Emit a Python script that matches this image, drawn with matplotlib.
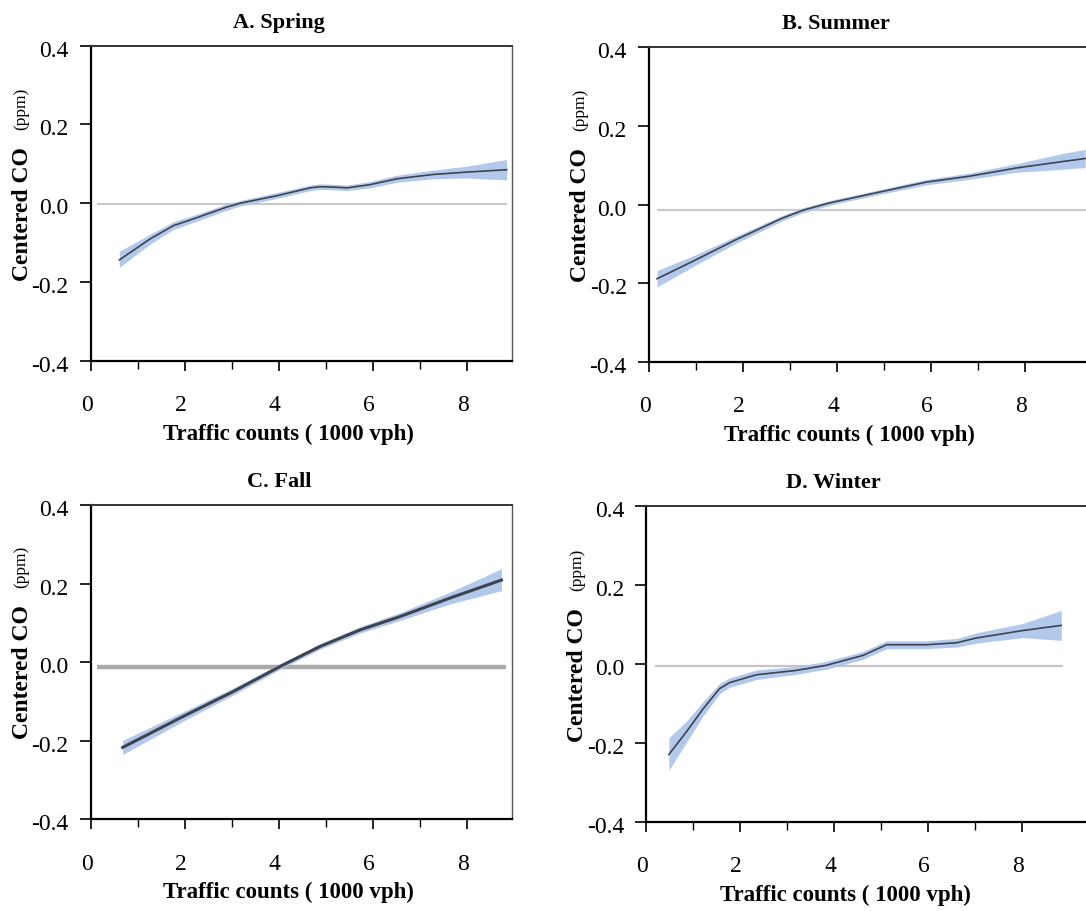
import matplotlib
matplotlib.use("Agg")
import matplotlib.pyplot as plt
from matplotlib.transforms import ScaledTranslation

plt.rcParams['font.family'] = ['Liberation Serif', 'DejaVu Serif']

titles = ["A. Spring", "B. Summer", "C. Fall", "D. Winter"]
xlabel = "Traffic counts ( 1000 vph)"
ylabel_main = "Centered CO"
ylabel_unit = "(ppm)"
yticks = [-0.4, -0.2, 0.0, 0.2, 0.4]
ytick_labels = ["-0.4", "-0.2", "0.0", "0.2", "0.4"]
xticks_major = [0, 2, 4, 6, 8]
xticks_minor = [1, 3, 5, 7]

# A. Spring
spring_x = [0.61, 1.26, 1.76, 2.18, 2.89, 3.18, 3.96, 4.67, 4.88, 5.15, 5.45, 5.94, 6.51, 7.29, 8.00, 8.85]
spring_y = [-0.144, -0.091, -0.057, -0.040, -0.010, 0.000, 0.019, 0.039, 0.042, 0.041, 0.039, 0.047, 0.062, 0.073, 0.079, 0.085]
spring_lo = [-0.163, -0.104, -0.067, -0.049, -0.018, -0.007, 0.012, 0.032, 0.035, 0.034, 0.032, 0.039, 0.053, 0.062, 0.064, 0.059]
spring_hi = [-0.122, -0.079, -0.047, -0.031, -0.002, 0.007, 0.027, 0.046, 0.049, 0.048, 0.046, 0.055, 0.071, 0.084, 0.094, 0.111]
spring_ref = -0.001

# B. Summer
summer_x = [0.17, 1.01, 1.86, 2.85, 3.28, 3.84, 4.84, 5.90, 6.82, 7.82, 8.84, 9.28]
summer_y = [-0.189, -0.140, -0.089, -0.034, -0.0145, 0.004, 0.030, 0.057, 0.072, 0.093, 0.110, 0.117]
summer_lo = [-0.210, -0.153, -0.098, -0.041, -0.021, -0.002, 0.024, 0.050, 0.064, 0.082, 0.090, 0.094]
summer_hi = [-0.168, -0.127, -0.080, -0.027, -0.008, 0.010, 0.036, 0.064, 0.080, 0.104, 0.131, 0.140]
summer_ref = -0.0145

# C. Fall
fall_x = [0.68, 1.97, 3.03, 4.03, 4.88, 5.73, 6.58, 7.64, 8.74]
fall_y = [-0.217, -0.138, -0.075, -0.011, 0.040, 0.082, 0.116, 0.163, 0.209]
fall_lo = [-0.235, -0.150, -0.084, -0.018, 0.033, 0.074, 0.106, 0.148, 0.182]
fall_hi = [-0.199, -0.126, -0.066, -0.004, 0.047, 0.090, 0.126, 0.178, 0.238]
fall_ref = -0.013

# D. Winter
winter_x = [0.48, 0.85, 1.21, 1.56, 1.77, 2.34, 3.19, 3.83, 4.61, 5.11, 5.46, 5.96, 6.60, 7.02, 8.01, 8.83]
winter_y = [-0.230, -0.173, -0.114, -0.063, -0.048, -0.028, -0.017, -0.004, 0.021, 0.048, 0.048, 0.048, 0.053, 0.065, 0.084, 0.097]
winter_lo = [-0.270, -0.200, -0.132, -0.076, -0.060, -0.040, -0.027, -0.014, 0.011, 0.038, 0.038, 0.038, 0.042, 0.052, 0.066, 0.059]
winter_hi = [-0.188, -0.146, -0.096, -0.050, -0.036, -0.016, -0.007, 0.006, 0.031, 0.058, 0.058, 0.058, 0.064, 0.078, 0.102, 0.135]
winter_ref = -0.006

# extent of the horizontal reference line in each panel (x units)
ref_start = [0.13, 0.17, 0.13, 0.18]
ref_end = [8.85, 9.30, 8.84, 8.86]

series = [
    (spring_x, spring_y, spring_lo, spring_hi, spring_ref),
    (summer_x, summer_y, summer_lo, summer_hi, summer_ref),
    (fall_x, fall_y, fall_lo, fall_hi, fall_ref),
    (winter_x, winter_y, winter_lo, winter_hi, winter_ref),
]

W, H = 1086, 911
fig = plt.figure(figsize=(W / 100, H / 100), dpi=100)

# axes boxes in pixels: left, top, right, bottom
boxes = [
    (90.7, 45.7, 512, 360.7),
    (649, 47.3, 1086, 361.7),
    (90.7, 505, 512, 819.3),
    (646.3, 505.7, 1086, 821.7),
]
title_xfrac = [0.447, 0.428, 0.447, 0.425]
xlabel_xfrac = [0.470, 0.458, 0.470, 0.453]

band_color = "#aac4ea"
line_color = "#3e4350"
ref_colors = ["#c9c9c9", "#cccccc", "#9c9c9c", "#c9c3c9"]

for i, (box, (xs, ys, lo, hi, ref)) in enumerate(zip(boxes, series)):
    l, t, r, b = box
    ax = fig.add_axes([l / W, 1 - b / H, (r - l) / W, (b - t) / H])
    xmax = (r - l) / 47.0
    ax.set_xlim(0, xmax)
    ax.set_ylim(-0.4, 0.4)
    ax.plot([ref_start[i], ref_end[i]], [ref, ref], color=ref_colors[i],
            lw=(3.2 if i == 2 else 1.6), alpha=(0.85 if i == 2 else 1.0), zorder=1,
            solid_capstyle='butt')
    ax.fill_between(xs, lo, hi, color=band_color, lw=0, alpha=0.9, zorder=2)
    ax.plot(xs, ys, color=line_color, lw=(2.2 if i == 2 else 1.2), zorder=3)

    ax.set_yticks(yticks)
    ax.set_yticklabels(ytick_labels)
    ax.set_xticks(xticks_major)
    ax.set_xticks(xticks_minor, minor=True)
    ax.tick_params(axis='y', direction='out', length=8, width=1.2, pad=8, labelsize=17)
    ax.tick_params(axis='x', which='major', direction='out', length=7, width=1.2, pad=18, labelsize=17)
    ax.tick_params(axis='x', which='minor', direction='out', length=6, width=1.0)
    xoff = ScaledTranslation(-4 / 100, 0, fig.dpi_scale_trans)
    for lab in ax.get_xticklabels():
        lab.set_transform(lab.get_transform() + xoff)
    yoff = ScaledTranslation(0, -3 / 100, fig.dpi_scale_trans)
    for lab in ax.get_yticklabels():
        lab.set_transform(lab.get_transform() + yoff)

    ax.spines['left'].set_linewidth(1.6)
    ax.spines['bottom'].set_linewidth(1.6)
    ax.spines['top'].set_linewidth(1.4)
    ax.spines['top'].set_color("#333333")
    ax.spines['right'].set_linewidth(1.0)
    ax.spines['right'].set_color("#555555")
    if i in (1, 3):
        ax.spines['right'].set_visible(False)

    ax.set_title(titles[i], fontsize=16, fontweight='bold', pad=13, x=title_xfrac[i])
    ax.set_xlabel(xlabel, fontsize=16.5, fontweight='bold', labelpad=5, x=xlabel_xfrac[i])

    # y label: bold main part, smaller unit part
    ax.annotate(ylabel_main, xy=(0, 0), xycoords='axes fraction',
                xytext=(-63 * 0.72, 80 * 0.72), textcoords='offset points',
                rotation=90, rotation_mode='anchor', ha='left', va='baseline',
                fontsize=17, fontweight='bold')
    ax.annotate(ylabel_unit, xy=(0, 0), xycoords='axes fraction',
                xytext=(-65 * 0.72, 231 * 0.72), textcoords='offset points',
                rotation=90, rotation_mode='anchor', ha='left', va='baseline',
                fontsize=12.5)

fig.savefig("out.png", dpi=100)
